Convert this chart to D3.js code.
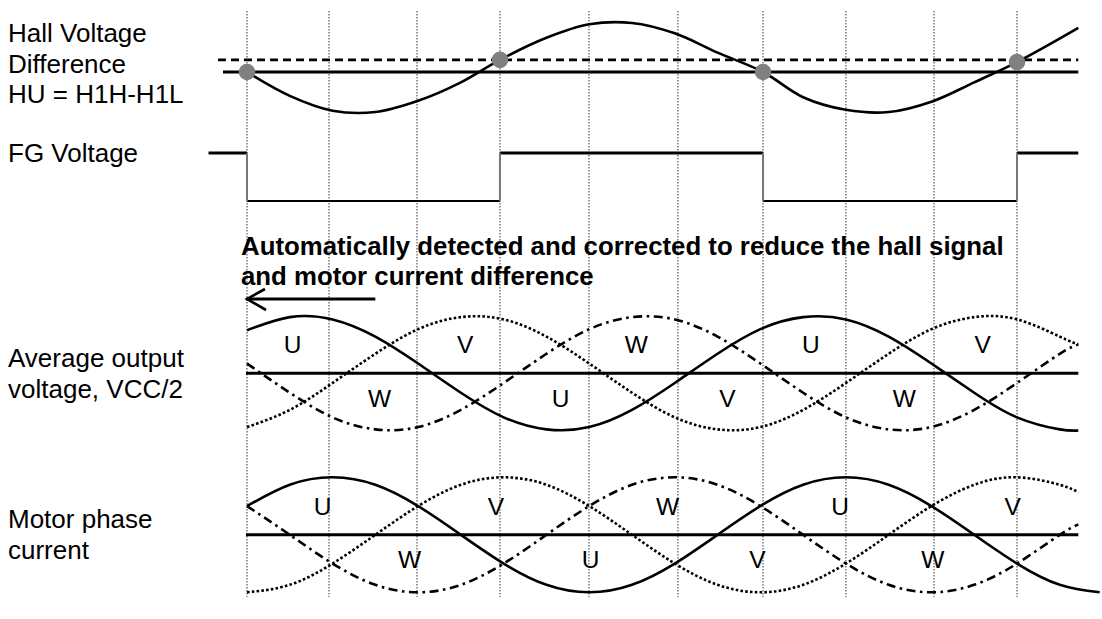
<!DOCTYPE html>
<html>
<head>
<meta charset="utf-8">
<script src="https://cdn.jsdelivr.net/npm/d3@7"></script>
<style>
  html, body { margin: 0; padding: 0; background: #fff; }
  svg { display: block; font-family: "Liberation Sans", Arial, sans-serif; }
</style>
</head>
<body>
<svg id="chart" width="1102" height="619"></svg>
<script>
// ---------------- data (electrical degrees) ----------------
const rowLabels = [
  ["Hall Voltage", "Difference", "HU = H1H-H1L"],
  ["FG Voltage"],
  ["Average output", "voltage, VCC/2"],
  ["Motor phase", "current"]
];
const noteLines = [
  "Automatically detected and corrected to reduce the hall signal",
  "and motor current difference"
];
const gridDeg = [0, 57.5, 119.2, 177.4, 239.8, 302.2, 361.9, 420, 481.8, 540];

// Hall voltage difference HU (0 = solid reference line)
const hallDeg = [0, 30, 60, 90, 120, 150, 177.4, 210, 240, 270, 300, 330, 361.9, 390, 420, 450, 480, 510, 540, 583];
const hallVal = [0, -0.53, -0.86, -0.89, -0.64, -0.23, 0.27, 0.76, 1.06, 1.09, 0.86, 0.43, 0, -0.56, -0.84, -0.89, -0.66, -0.23, 0.22, 0.98];
const hallThreshold = 0.27;
const hallMarkDeg = [0, 177.4, 361.9, 540];
const hallMarkVal = [0, 0.27, 0, 0.22];

// FG voltage (1 = high, 0 = low)
const fgDeg = [-27, 0, 177.4, 361.9, 540, 583];
const fgLevel = [1, 0, 1, 0, 1];

// Phase waveforms, sampled every 30 degrees
const phaseDeg = [0, 30, 60, 90, 120, 150, 180, 210, 240, 270, 300, 330, 360, 390, 420, 450, 480, 510, 540, 570, 583];
const avgU = [0.75, 0.98, 0.94, 0.64, 0.17, -0.34, -0.77, -0.98, -0.94, -0.64, -0.17, 0.34, 0.77, 0.98, 0.94, 0.64, 0.17, -0.34, -0.77, -0.98, -1.0];
const avgV = [-0.94, -0.64, -0.17, 0.34, 0.77, 0.98, 0.94, 0.64, 0.17, -0.34, -0.77, -0.98, -0.94, -0.64, -0.17, 0.34, 0.77, 0.98, 0.94, 0.64, 0.5];
const avgW = [0.17, -0.34, -0.77, -0.98, -0.94, -0.64, -0.17, 0.34, 0.77, 0.98, 0.94, 0.64, 0.17, -0.34, -0.77, -0.98, -0.94, -0.64, -0.17, 0.34, 0.5];

const curUDeg = [0, 30, 60, 90, 120, 150, 180, 210, 240, 270, 300, 330, 360, 390, 420, 450, 480, 510, 540, 570, 598];
const curU = [0.5, 0.87, 1, 0.87, 0.5, 0, -0.5, -0.87, -1, -0.87, -0.5, 0, 0.5, 0.87, 1, 0.87, 0.5, 0, -0.5, -0.87, -1.0];
const curV = [-1, -0.87, -0.5, 0, 0.5, 0.87, 1, 0.87, 0.5, 0, -0.5, -0.87, -1, -0.87, -0.5, 0, 0.5, 0.87, 1, 0.87, 0.74];
const curW = [0.5, 0, -0.5, -0.87, -1, -0.87, -0.5, 0, 0.5, 0.87, 1, 0.87, 0.5, 0, -0.5, -0.87, -1, -0.87, -0.5, 0, 0.18];

// Phase name labels: [name, degree, value]
const avgLabels = [["U", 32, 0.36], ["V", 153, 0.36], ["W", 273, 0.36], ["U", 395.5, 0.36], ["V", 516, 0.36],
                   ["W", 93, -0.59], ["U", 220, -0.59], ["V", 337, -0.59], ["W", 461, -0.59]];
const curLabels = [["U", 53, 0.34], ["V", 174.6, 0.34], ["W", 295, 0.34], ["U", 416, 0.34], ["V", 537, 0.34],
                   ["W", 114, -0.58], ["U", 241, -0.58], ["V", 358, -0.58], ["W", 481, -0.58]];
const arrowDeg = [90, 0];

// ---------------- drawing ----------------
const svg = d3.select("#chart");
const x = d3.scaleLinear().domain([0, 540]).range([247, 1017]);
const yHall = d3.scaleLinear().domain([-1, 1]).range([117, 27]);
const yFG = d3.scaleLinear().domain([0, 1]).range([201, 153]);
const yAvg = d3.scaleLinear().domain([-1, 1]).range([430.5, 316]);
const yCur = d3.scaleLinear().domain([-1, 1]).range([592.3, 477.3]);
const xEnd = 583;

// grid
svg.append("g").selectAll("line").data(gridDeg).join("line")
  .attr("x1", d => x(d)).attr("x2", d => x(d))
  .attr("y1", 11).attr("y2", 597)
  .attr("stroke", "#7a7a7a").attr("stroke-width", 1.5)
  .attr("stroke-dasharray", "1.5,1.5");

// left labels
const labelBase = [41.7, 161.7, 366.7, 528.3];
rowLabels.forEach((lines, i) => {
  const t = svg.append("text").attr("x", 8).attr("y", labelBase[i])
    .attr("font-size", 26).attr("fill", "#000");
  lines.forEach((s, j) => t.append("tspan").attr("x", 8).attr("dy", j === 0 ? 0 : 30.8).text(s));
});

// Hall section
svg.append("line").attr("x1", 218).attr("x2", x(xEnd))
  .attr("y1", yHall(hallThreshold)).attr("y2", yHall(hallThreshold))
  .attr("stroke", "#000").attr("stroke-width", 2.6).attr("stroke-dasharray", "8,5");
svg.append("line").attr("x1", 223).attr("x2", x(xEnd))
  .attr("y1", yHall(0)).attr("y2", yHall(0))
  .attr("stroke", "#000").attr("stroke-width", 2.8);
const hallPts = hallDeg.map((d, i) => [d, hallVal[i]]);
svg.append("path").datum(hallPts)
  .attr("d", d3.line().x(d => x(d[0])).y(d => yHall(d[1])).curve(d3.curveCatmullRom.alpha(0.5)))
  .attr("fill", "none").attr("stroke", "#000").attr("stroke-width", 2.6);
svg.append("g").selectAll("circle").data(hallMarkDeg).join("circle")
  .attr("cx", d => x(d)).attr("cy", (d, i) => yHall(hallMarkVal[i]))
  .attr("r", 8.3).attr("fill", "#808080");

// FG section
const fgG = svg.append("g");
fgLevel.forEach((lv, i) => {
  fgG.append("line").attr("x1", x(fgDeg[i])).attr("x2", x(fgDeg[i + 1]))
    .attr("y1", yFG(lv)).attr("y2", yFG(lv))
    .attr("stroke", "#000").attr("stroke-width", lv ? 2.8 : 2.2);
});
fgLevel.slice(1).forEach((lv, i) => {
  fgG.append("line").attr("x1", x(fgDeg[i + 1])).attr("x2", x(fgDeg[i + 1]))
    .attr("y1", yFG(1)).attr("y2", yFG(0))
    .attr("stroke", "#777").attr("stroke-width", 2);
});

// note text
const note = svg.append("text").attr("x", 241).attr("y", 255)
  .attr("font-size", 25.8).attr("font-weight", "bold").attr("fill", "#000");
noteLines.forEach((s, j) => note.append("tspan").attr("x", 241).attr("dy", j === 0 ? 0 : 29.5).text(s));

// arrow
const ay = 299;
svg.append("line").attr("x1", x(arrowDeg[0])).attr("x2", x(arrowDeg[1]) - 1)
  .attr("y1", ay).attr("y2", ay).attr("stroke", "#000").attr("stroke-width", 2.8);
svg.append("path")
  .attr("d", `M${x(arrowDeg[1]) + 18},${ay - 10} L${x(arrowDeg[1])},${ay} L${x(arrowDeg[1]) + 19},${ay + 11}`)
  .attr("fill", "none").attr("stroke", "#000").attr("stroke-width", 2.6);

// phase panels
const styles = {
  U: { dash: null },
  V: { dash: "2.6,2.2" },
  W: { dash: "9,4.5,2.6,4.5" }
};
function panel(y, series, labels) {
  const g = svg.append("g");
  g.append("line").attr("x1", x(0) - 1).attr("x2", x(xEnd))
    .attr("y1", y(0)).attr("y2", y(0))
    .attr("stroke", "#000").attr("stroke-width", 3);
  series.forEach(s => {
    const pts = s.deg.map((d, i) => [d, s.val[i]]);
    g.append("path").datum(pts)
      .attr("d", d3.line().x(d => x(d[0])).y(d => y(d[1])).curve(d3.curveNatural))
      .attr("fill", "none").attr("stroke", "#000").attr("stroke-width", 2.6)
      .attr("stroke-dasharray", styles[s.name].dash);
  });
  g.selectAll("text.ph").data(labels).join("text").attr("class", "ph")
    .attr("x", d => x(d[1])).attr("y", d => y(d[2]))
    .attr("text-anchor", "middle").attr("font-size", 24.5).attr("fill", "#000")
    .text(d => d[0]);
}
panel(yAvg, [
  { name: "V", deg: phaseDeg, val: avgV },
  { name: "W", deg: phaseDeg, val: avgW },
  { name: "U", deg: phaseDeg, val: avgU }
], avgLabels);
panel(yCur, [
  { name: "V", deg: phaseDeg, val: curV },
  { name: "W", deg: phaseDeg, val: curW },
  { name: "U", deg: curUDeg, val: curU }
], curLabels);
</script>
</body>
</html>
